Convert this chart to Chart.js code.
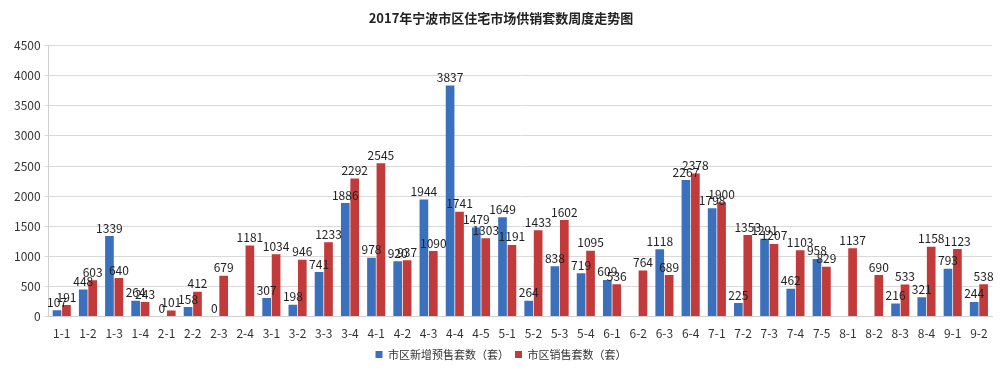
<!DOCTYPE html>
<html>
<head>
<meta charset="utf-8">
<script src="https://cdn.jsdelivr.net/npm/chart.js@4"></script>
<style>
  body { margin: 0; background: #fff; }
  #wrap { width: 1000px; height: 375px; }
</style>
</head>
<body>
<div id="wrap"><canvas id="chart"></canvas></div>
<script>
var weeks = ['1-1','1-2','1-3','1-4','2-1','2-2','2-3','2-4','3-1','3-2','3-3','3-4','4-1','4-2','4-3','4-4','4-5','5-1','5-2','5-3','5-4','6-1','6-2','6-3','6-4','7-1','7-2','7-3','7-4','7-5','8-1','8-2','8-3','8-4','9-1','9-2'];
var newSupply = [107,448,1339,264,0,158,0,null,307,198,741,1886,978,920,1944,3837,1479,1649,264,838,719,609,null,1118,2267,1798,225,1291,462,958,null,null,216,321,793,244];
var sales = [191,603,640,243,101,412,679,1181,1034,946,1233,2292,2545,937,1090,1741,1303,1191,1433,1602,1095,536,764,689,2378,1900,1353,1207,1103,829,1137,690,533,1158,1123,538];
var yTicks = [0,500,1000,1500,2000,2500,3000,3500,4000,4500];

var fontFamily = '"Microsoft YaHei","Noto Sans CJK SC","DejaVu Sans",sans-serif';

// draw the number above every bar
var barLabels = {
  id: 'barLabels',
  afterDatasetsDraw: function(chart) {
    var ctx = chart.ctx;
    ctx.save();
    ctx.font = '12px ' + fontFamily;
    ctx.fillStyle = '#222';
    ctx.textAlign = 'center';
    ctx.textBaseline = 'bottom';
    chart.data.datasets.forEach(function(ds, i) {
      var meta = chart.getDatasetMeta(i);
      meta.data.forEach(function(bar, j) {
        var v = ds.data[j];
        if (v == null) return;
        ctx.fillText(String(v), bar.x, bar.y - 2);
      });
    });
    ctx.restore();
  }
};

var chart = new Chart(document.getElementById('chart'), {
  type: 'bar',
  plugins: [barLabels],
  data: {
    labels: weeks,
    datasets: [
      {
        label: '市区新增预售套数（套）',
        data: newSupply,
        backgroundColor: '#3b70bd',
        categoryPercentage: 0.72,
        barPercentage: 0.92
      },
      {
        label: '市区销售套数（套）',
        data: sales,
        backgroundColor: '#c23a3a',
        categoryPercentage: 0.72,
        barPercentage: 0.92
      }
    ]
  },
  options: {
    responsive: true,
    maintainAspectRatio: false,
    animation: false,
    layout: { padding: { left: 10, right: 8, top: 4, bottom: 5 } },
    plugins: {
      title: {
        display: true,
        text: '2017年宁波市区住宅市场供销套数周度走势图',
        color: '#222',
        font: { family: fontFamily, size: 13, weight: 'bold' },
        padding: { top: 6, bottom: 20 }
      },
      legend: {
        position: 'bottom',
        labels: {
          boxWidth: 7,
          boxHeight: 7,
          color: '#333',
          font: { family: fontFamily, size: 11 },
          padding: 6
        }
      },
      tooltip: { enabled: false }
    },
    scales: {
      x: {
        grid: { display: false },
        border: { color: '#d0d0d0' },
        ticks: {
          color: '#333',
          font: { family: fontFamily, size: 12 },
          maxRotation: 0,
          autoSkip: false,
          padding: 2
        }
      },
      y: {
        min: 0,
        max: 4500,
        afterBuildTicks: function(axis) {
          axis.ticks = yTicks.map(function(v) { return { value: v }; });
        },
        grid: { color: '#d9d9d9', tickLength: 4 },
        border: { color: '#d0d0d0' },
        ticks: {
          color: '#333',
          font: { family: fontFamily, size: 12 },
          padding: 4,
          callback: function(v) { return String(v); }
        }
      }
    }
  }
});
</script>
</body>
</html>
